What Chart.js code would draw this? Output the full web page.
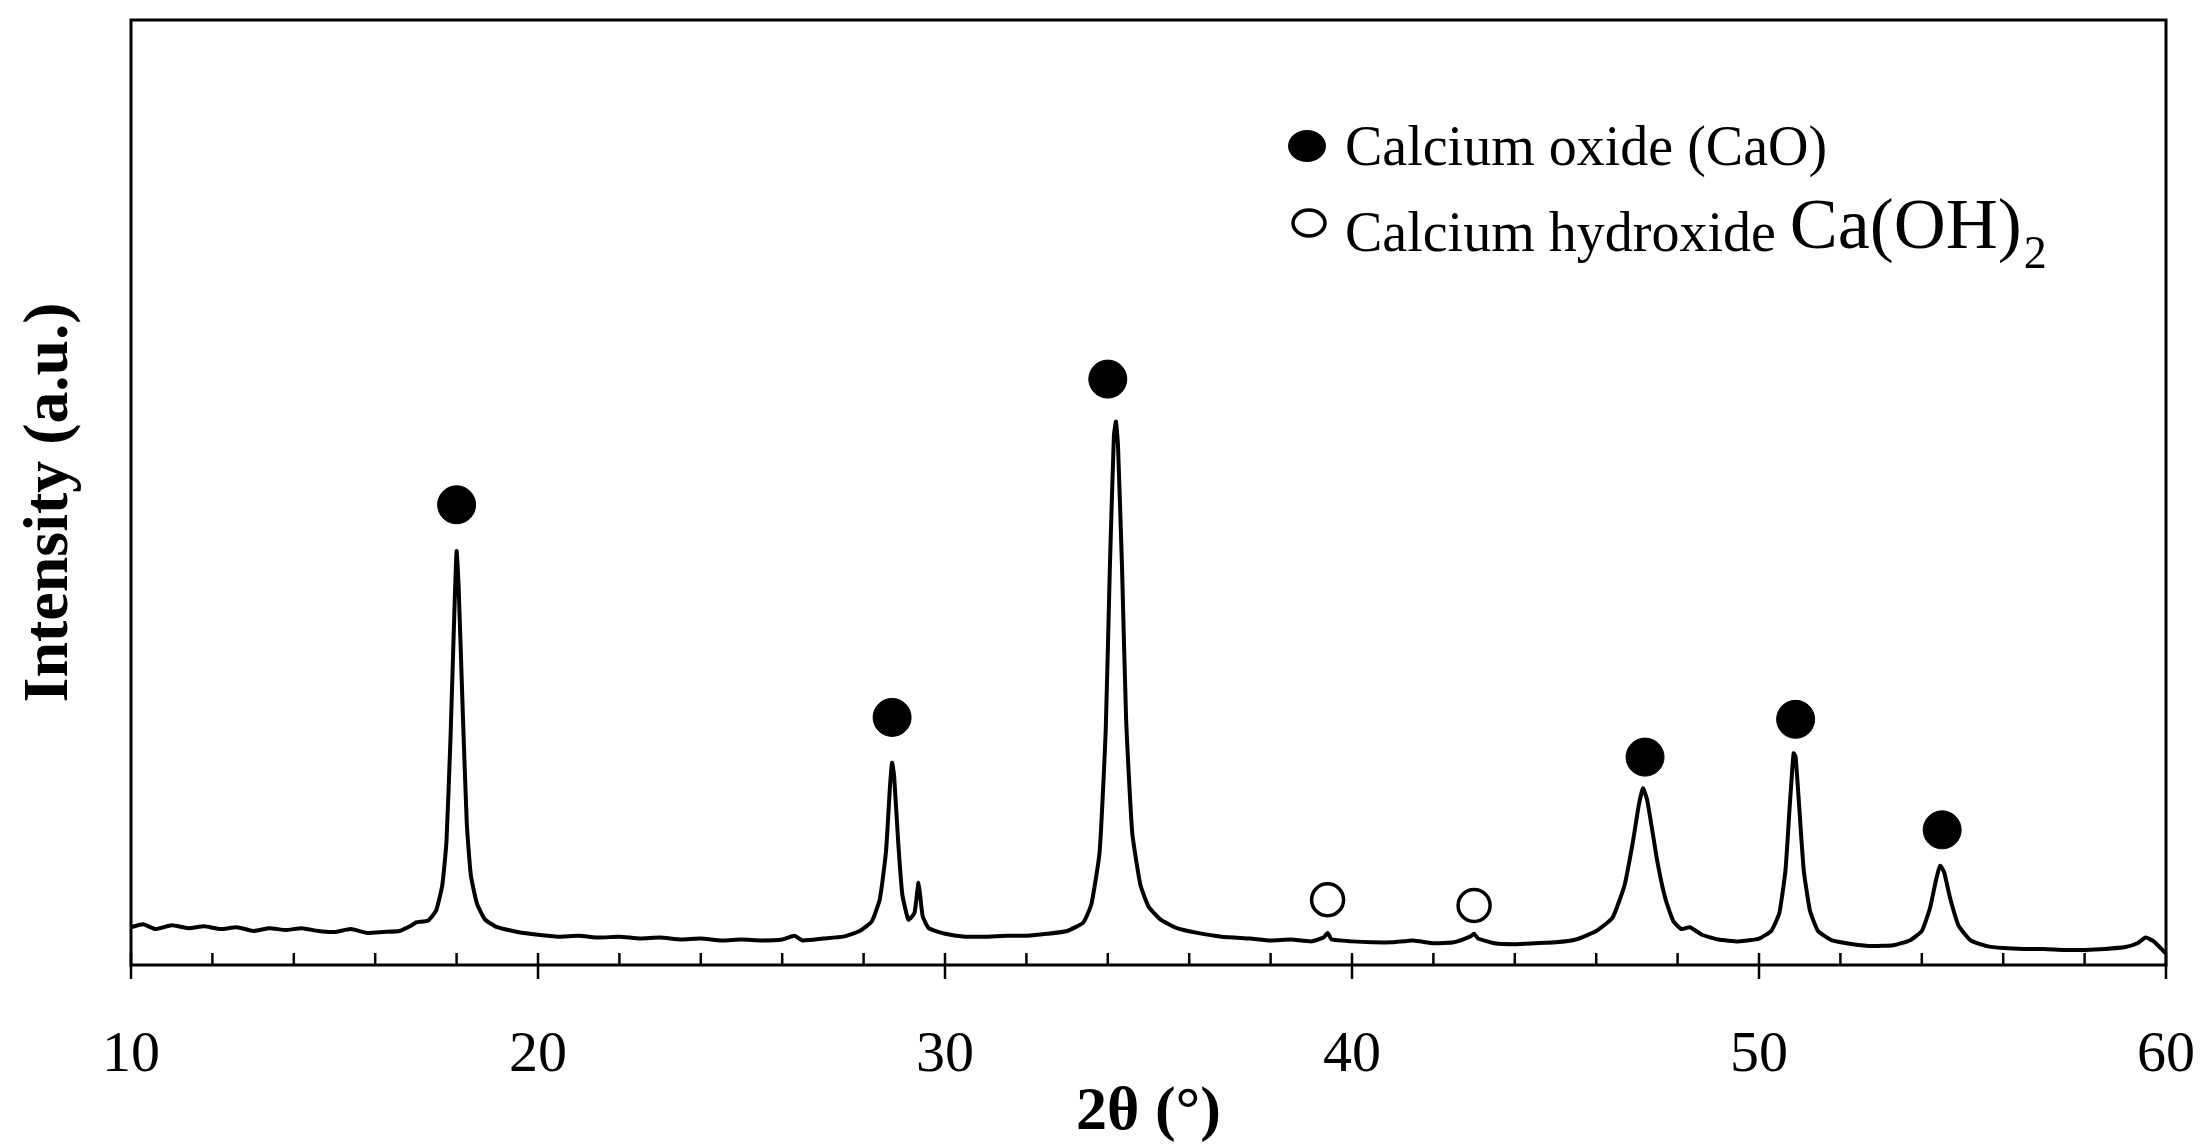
<!DOCTYPE html>
<html>
<head>
<meta charset="utf-8">
<script src="https://cdn.jsdelivr.net/npm/chart.js@4"></script>
<style>
  html, body { margin: 0; padding: 0; background: #fff; }
  #box { width: 2209px; height: 1147px; }
</style>
</head>
<body>
<div id="box"><canvas id="xrd"></canvas></div>
<script>
// XRD pattern
var twoTheta = [10, 10.3, 10.6, 11, 11.4, 11.8, 12.2, 12.6, 13, 13.4, 13.8, 14.2, 14.6, 15, 15.4, 15.8, 16.2, 16.6, 16.9, 17.0, 17.3, 17.5, 17.65, 17.75, 17.85, 17.95, 18.0, 18.05, 18.15, 18.25, 18.35, 18.5, 18.7, 19.0,
  19.5, 20, 20.5, 21, 21.5, 22, 22.5, 23, 23.5, 24, 24.5, 25, 25.5, 26, 26.3, 26.5, 27, 27.5, 27.9, 28.2, 28.4, 28.55, 28.65, 28.7, 28.75, 28.85, 28.95, 29.1, 29.25, 29.35, 29.45, 29.6,
  30, 30.5, 31, 31.5, 32, 32.5, 33, 33.4, 33.6, 33.8, 33.95, 34.05, 34.15, 34.2, 34.25, 34.35, 34.45, 34.6, 34.8, 35.0, 35.3, 35.7, 36.2, 36.8, 37.5, 38, 38.5, 39, 39.3, 39.4, 39.5,
  40, 40.5, 41, 41.5, 42, 42.5, 42.9, 43.0, 43.1, 43.5, 44, 44.5, 45, 45.5, 46, 46.4, 46.7, 46.9, 47.05, 47.15, 47.25, 47.35, 47.5, 47.7, 47.9, 48.1, 48.3, 48.6, 49, 49.5,
  50, 50.3, 50.5, 50.65, 50.75, 50.85, 50.9, 51.0, 51.1, 51.25, 51.45, 51.8, 52.3, 52.8, 53.3, 53.7, 54.0, 54.2, 54.35, 54.45, 54.55, 54.7, 54.9, 55.2, 55.6, 56, 56.5, 57, 57.5, 58, 58.5, 59, 59.3, 59.5, 59.7, 60];
var intensity = [4.0, 4.3, 3.8, 4.2, 3.9, 4.1, 3.8, 4.0, 3.6, 3.9, 3.7, 3.9, 3.6, 3.5, 3.8, 3.4, 3.5, 3.6, 4.2, 4.5, 4.7, 5.8, 8.5, 13, 24, 38, 43.8, 40, 27, 15, 9.5, 6.5, 4.8, 4.0,
  3.5, 3.2, 3.0, 3.1, 2.9, 3.0, 2.8, 2.9, 2.7, 2.8, 2.6, 2.7, 2.6, 2.7, 3.1, 2.6, 2.8, 3.0, 3.6, 4.6, 7, 12, 19, 21.4, 20, 13, 7.5, 4.8, 5.5, 8.7, 5.2, 3.9,
  3.3, 3.0, 3.0, 3.1, 3.1, 3.3, 3.6, 4.5, 6.5, 12, 25, 42, 56, 57.5, 55, 42, 26, 14, 8.5, 6.2, 4.8, 3.9, 3.4, 3.0, 2.8, 2.6, 2.7, 2.5, 2.9, 3.4, 2.7,
  2.5, 2.4, 2.4, 2.6, 2.3, 2.4, 3.0, 3.3, 2.8, 2.3, 2.2, 2.3, 2.4, 2.7, 3.6, 5.0, 8.5, 13, 17, 18.7, 17.5, 15, 11, 7, 4.6, 3.8, 4.0, 3.2, 2.7, 2.5,
  2.8, 3.6, 5.5, 10, 16.5, 22.4, 22.0, 16, 10, 5.8, 3.6, 2.6, 2.2, 2.0, 2.1, 2.6, 3.6, 6, 9, 10.5, 9.8, 7, 4.2, 2.6, 2.0, 1.8, 1.7, 1.7, 1.6, 1.6, 1.7, 1.9, 2.3, 2.9, 2.5, 1.2];

// phase markers placed above the peaks
var caoX = [18.0, 28.7, 34.0, 47.2, 50.9, 54.5];
var caoY = [48.7, 26.2, 62.0, 22.0, 26.0, 14.3];
var hydroxideX = [39.4, 43.0];
var hydroxideY = [6.9, 6.3];

var xTickLabels = [10, 20, 30, 40, 50, 60];

var serif = '"Liberation Serif", "DejaVu Serif", serif';

function pairs(xs, ys) {
  return xs.map(function (x, i) { return { x: x, y: ys[i] }; });
}

// frame, ticks, labels and legend drawn on top of the chart area
var decor = {
  id: 'decor',
  afterDraw: function (chart) {
    var c = chart.ctx, a = chart.chartArea, xs = chart.scales.x;
    c.save();
    c.strokeStyle = '#000';
    c.lineWidth = 3;
    c.strokeRect(a.left, a.top, a.right - a.left, a.bottom - a.top);

    c.lineWidth = 2.5;
    for (var v = 12; v < 60; v += 2) {
      if (v % 10 === 0) continue;
      var px = xs.getPixelForValue(v);
      c.beginPath(); c.moveTo(px, a.bottom); c.lineTo(px, a.bottom - 12); c.stroke();
    }
    c.fillStyle = '#000';
    c.font = '58px ' + serif;
    c.textAlign = 'center';
    c.textBaseline = 'alphabetic';
    xTickLabels.forEach(function (v) {
      var px = xs.getPixelForValue(v);
      c.beginPath(); c.moveTo(px, a.bottom - 12); c.lineTo(px, a.bottom + 14); c.stroke();
      c.fillText(String(v), px, a.bottom + 106);
    });

    c.font = 'bold 62px ' + serif;
    c.fillText('2\u03b8 (\u00b0)', (a.left + a.right) / 2, a.bottom + 164);

    c.save();
    c.translate(50, (a.top + a.bottom) / 2 + 10);
    c.rotate(-Math.PI / 2);
    c.textBaseline = 'middle';
    c.font = 'bold 64px ' + serif;
    c.fillText('Intensity (a.u.)', 0, 0);
    c.restore();

    // legend
    c.textAlign = 'left';
    c.textBaseline = 'middle';
    c.beginPath(); c.ellipse(1307, 146, 19, 16, 0, 0, 2 * Math.PI); c.fill();
    c.lineWidth = 3.5;
    c.beginPath(); c.ellipse(1309, 223, 16, 13, 0, 0, 2 * Math.PI); c.stroke();
    c.font = '56px ' + serif;
    c.fillText('Calcium oxide (CaO)', 1345, 150);
    c.fillText('Calcium hydroxide', 1345, 236);
    var w = c.measureText('Calcium hydroxide ').width;
    c.font = '72px ' + serif;
    c.fillText('Ca(OH)', 1345 + w, 229);
    var w2 = c.measureText('Ca(OH)').width;
    c.font = '46px ' + serif;
    c.fillText('2', 1345 + w + w2 + 2, 256);
    c.restore();
  }
};

new Chart(document.getElementById('xrd'), {
  type: 'scatter',
  data: {
    datasets: [
      {
        data: pairs(twoTheta, intensity),
        showLine: true,
        borderColor: '#000',
        borderWidth: 4,
        pointRadius: 0,
        tension: 0.15
      },
      {
        data: pairs(caoX, caoY),
        pointRadius: 19,
        pointBackgroundColor: '#000',
        pointBorderColor: '#000',
        showLine: false
      },
      {
        data: pairs(hydroxideX, hydroxideY),
        pointRadius: 16,
        pointBackgroundColor: '#fff',
        pointBorderColor: '#000',
        pointBorderWidth: 3.5,
        showLine: false
      }
    ]
  },
  options: {
    responsive: true,
    maintainAspectRatio: false,
    animation: false,
    layout: { padding: { left: 131, right: 43, top: 20, bottom: 182 } },
    plugins: { legend: { display: false }, tooltip: { enabled: false } },
    scales: {
      x: { type: 'linear', min: 10, max: 60, display: false },
      y: { min: 0, max: 100, display: false }
    }
  },
  plugins: [decor]
});
</script>
</body>
</html>
